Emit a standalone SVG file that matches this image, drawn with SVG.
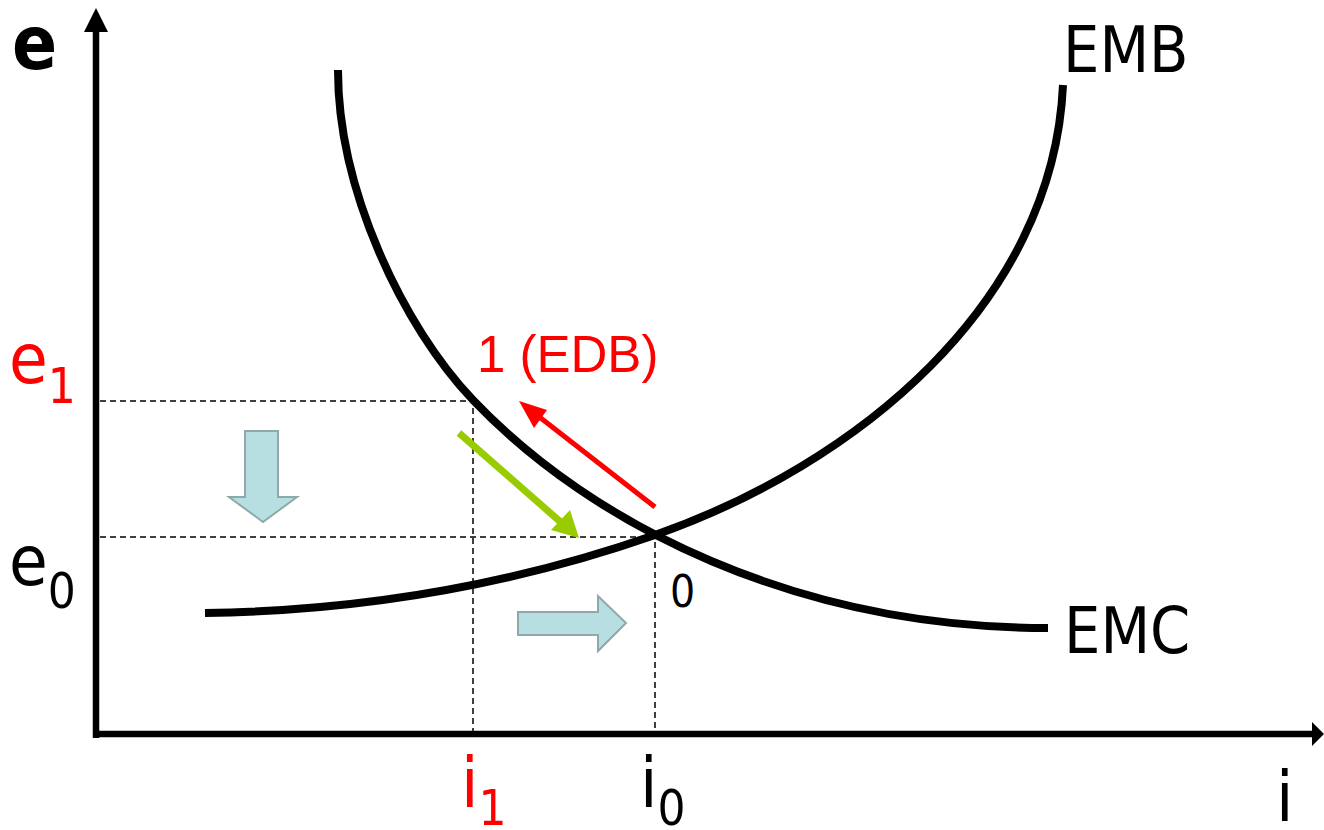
<svg xmlns="http://www.w3.org/2000/svg" width="1324" height="830" viewBox="0 0 1324 830">
<style>
.t{font-family:"DejaVu Sans Condensed","DejaVu Sans",Verdana,sans-serif;font-stretch:condensed;}
.a{font-family:"Liberation Sans",Arial,sans-serif;}
.curve{fill:none;stroke:#000;stroke-width:8;}
.axis{fill:none;stroke:#000;stroke-width:6.5;}
.dash{fill:none;stroke:#000;stroke-width:1.5;stroke-dasharray:6,4;}
.block{fill:#b7dfe1;stroke:#8ea9aa;stroke-width:2;}
.red{fill:#ff0000;}
</style>
<rect width="1324" height="830" fill="#fff"/>
<g id="axes">
<path class="axis" d="M96,738 V30"/>
<polygon points="96,8 84,32 108,32" fill="#000"/>
<path class="axis" d="M93,734 H1312"/>
<polygon points="1324,734 1312,722 1312,746" fill="#000"/>
</g>
<g id="guides">
<path class="dash" d="M100,401 H473 V735"/>
<path class="dash" d="M100,537 H655 V735"/>
</g>
<g id="EMC">
<path class="curve" d="M338,70 C338,190 403,326.5 473,400 C593,526 798,628 1048,628"/>
<text class="t" x="1064" y="653" font-size="64">EMC</text>
</g>
<g id="EMB">
<path class="curve" d="M205,613 C355,611 505,587.5 655,535 C855,465 1053,305 1063,85"/>
<text class="t" x="1063" y="72" font-size="64">EMB</text>
</g>
<g id="point0">
<text class="t" x="670" y="607" font-size="44">0</text>
</g>
<g id="connectors">
<line x1="655" y1="507" x2="533" y2="412" stroke="#ff0000" stroke-width="5"/>
<polygon points="519,401 547,410 534,428" fill="#ff0000"/>
<line x1="459" y1="433" x2="564" y2="525" stroke="#99cc00" stroke-width="7"/>
<polygon points="579,538 551,530 570,510" fill="#99cc00"/>
</g>
<g id="arrow-down">
<polygon class="block" points="245,431 278,431 278,497 297,497 263,522 229,497 245,497"/>
</g>
<g id="arrow-right">
<polygon class="block" points="518,612 598,612 598,596 626,623 598,651 598,635 518,635"/>
</g>
<g id="labels">
<text class="t" x="12" y="69" font-size="74" font-weight="bold">e</text>
<text class="t red" x="9" y="383" font-size="70">e<tspan font-size="49" dy="20">1</tspan></text>
<text class="t" x="9" y="585" font-size="70">e<tspan font-size="49" dy="23">0</tspan></text>
<text class="t red" x="461" y="807" font-size="70">i<tspan font-size="49" dy="18">1</tspan></text>
<text class="t" x="640" y="807" font-size="70">i<tspan font-size="49" dy="18">0</tspan></text>
<text class="t" x="1276" y="821" font-size="70">i</text>
<text class="a red" x="477" y="372" font-size="51">1 (EDB)</text>
</g>
</svg>
